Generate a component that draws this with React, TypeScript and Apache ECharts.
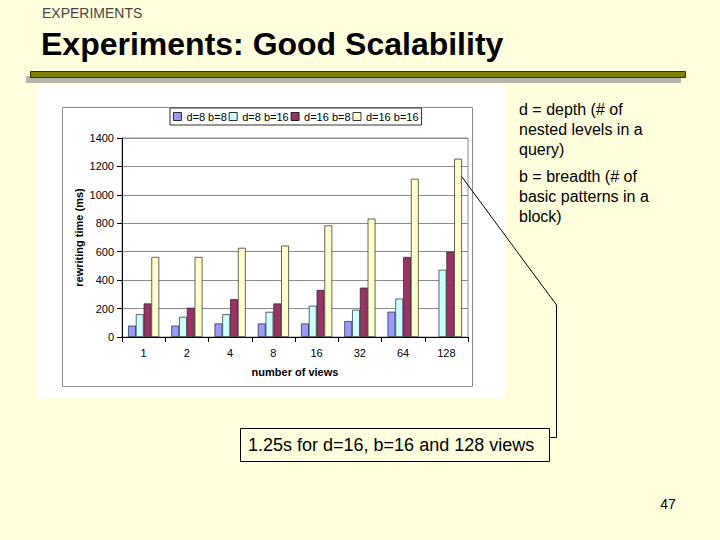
import React, { useEffect, useRef } from "react";
import * as echarts from "echarts";

const categories = ["1", "2", "4", "8", "16", "32", "64", "128"];
const seriesNames = ["d=8 b=8", "d=8 b=16", "d=16 b=8", "d=16 b=16"];
const d8b8 = [80, 80, 95, 95, 95, 112, 178, null];
const d8b16 = [160, 142, 160, 177, 220, 192, 270, 473];
const d16b8 = [236, 206, 266, 236, 331, 347, 563, 600];
const d16b16 = [563, 563, 627, 643, 785, 833, 1113, 1254];
const seriesColors = ["#9999FF", "#CCFFFF", "#993366", "#FFFFCC"];
const yTicks = { min: 0, max: 1400, interval: 200 };

const FONT = "'Liberation Sans', Arial, sans-serif";
const BG = "#FFFFDD";

export default function App() {
  const ref = useRef<HTMLDivElement>(null);
  useEffect(() => {
    if (!ref.current) return;
    const chart = echarts.init(ref.current, undefined, { renderer: "svg" });
    const data = [d8b8, d8b16, d16b8, d16b16];
    chart.setOption({
      animation: false,
      backgroundColor: BG,
      textStyle: { fontFamily: FONT },
      graphic: [
        { type: "text", x: 42, y: 13, style: { text: "EXPERIMENTS", fontSize: 14, fontFamily: FONT, fill: "#444", verticalAlign: "middle" } },
        { type: "text", x: 41, y: 44, style: { text: "Experiments: Good Scalability", fontSize: 32, fontWeight: "bold", fontFamily: FONT, fill: "#000", verticalAlign: "middle" } },
        { type: "rect", shape: { x: 26, y: 76, width: 655, height: 7 }, style: { fill: "#B4B4A8" } },
        { type: "rect", shape: { x: 30.5, y: 71.5, width: 655, height: 6 }, style: { fill: "#808000", stroke: "#333300", lineWidth: 1 } },
        { type: "rect", z: -10, shape: { x: 38, y: 85, width: 467, height: 313 }, style: { fill: "#FFFFFF" } },
        { type: "rect", z: -9, shape: { x: 62.5, y: 107.5, width: 410, height: 279 }, style: { fill: "#FFFFFF", stroke: "#8C8C8C", lineWidth: 1 } },
        { type: "text", x: 519, y: 99, style: { text: "d = depth (# of\nnested levels in a\nquery)", fontSize: 16, fontFamily: FONT, fill: "#000", lineHeight: 20 } },
        { type: "text", x: 519, y: 166, style: { text: "b = breadth (# of\nbasic patterns in a\nblock)", fontSize: 16, fontFamily: FONT, fill: "#000", lineHeight: 20 } },
        { type: "polyline", shape: { points: [[460.5, 175], [556.5, 305], [556.5, 437.5], [549, 437.5]] }, style: { stroke: "#000", lineWidth: 1, fill: null } },
        { type: "rect", shape: { x: 240.5, y: 428.5, width: 309, height: 33 }, style: { fill: BG, stroke: "#000", lineWidth: 1 } },
        { type: "text", x: 248, y: 445, style: { text: "1.25s for d=16, b=16 and 128 views", fontSize: 18, fontFamily: FONT, fill: "#000", verticalAlign: "middle" } },
        { type: "text", x: 668, y: 504, style: { text: "47", fontSize: 14, fontFamily: FONT, fill: "#000", align: "center", verticalAlign: "middle" } },
      ],
      legend: {
        left: 170,
        top: 108,
        data: seriesNames,
        itemWidth: 8,
        itemHeight: 8,
        itemGap: 2,
        padding: [3, 3],
        borderColor: "#333",
        borderWidth: 1,
        backgroundColor: "#fff",
        icon: "rect",
        itemStyle: { borderColor: "#000", borderWidth: 0.8 },
        textStyle: { fontSize: 11, fontFamily: FONT, color: "#000" },
      },
      grid: {
        left: 122,
        right: 252,
        top: 138,
        bottom: 203,
        show: true,
        backgroundColor: "#fff",
        borderColor: "#8C8C8C",
        borderWidth: 1,
      },
      xAxis: {
        type: "category",
        data: categories,
        name: "number of views",
        nameLocation: "middle",
        nameGap: 29,
        nameTextStyle: { fontSize: 11, fontWeight: "bold", fontFamily: FONT, color: "#000" },
        axisLine: { lineStyle: { color: "#000", width: 1 } },
        axisTick: { show: true, length: 5, lineStyle: { color: "#000" } },
        axisLabel: { fontSize: 11, fontFamily: FONT, color: "#000", margin: 10 },
      },
      yAxis: {
        type: "value",
        min: yTicks.min,
        max: yTicks.max,
        interval: yTicks.interval,
        name: "rewriting time (ms)",
        nameLocation: "middle",
        nameGap: 38,
        nameTextStyle: { fontSize: 11, fontWeight: "bold", fontFamily: FONT, color: "#000" },
        axisLine: { show: true, lineStyle: { color: "#000", width: 1 } },
        axisTick: { show: true, length: 5, lineStyle: { color: "#000" } },
        axisLabel: { fontSize: 11, fontFamily: FONT, color: "#000", margin: 8, formatter: (v: number) => String(v) },
        splitLine: { show: true, lineStyle: { color: "#8C8C8C", width: 1 } },
      },
      series: seriesNames.map((name, i) => ({
        name,
        type: "bar",
        data: data[i],
        barGap: "0%",
        barCategoryGap: "28%",
        itemStyle: { color: seriesColors[i], borderColor: "#222", borderWidth: 0.7 },
      })),
    });
    return () => chart.dispose();
  }, []);
  return (
    <div
      ref={ref}
      style={{ position: "absolute", left: 0, top: 0, width: 720, height: 540 }}
    />
  );
}
